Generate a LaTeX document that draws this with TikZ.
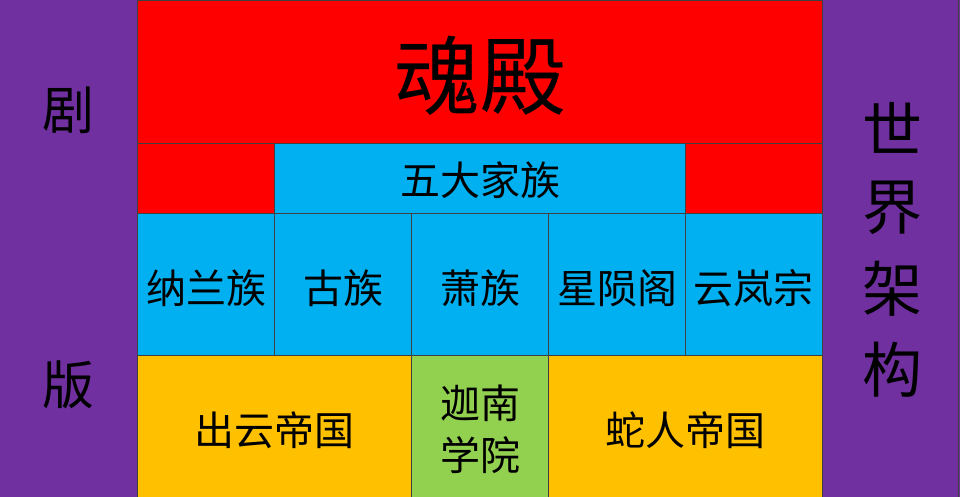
\documentclass[tikz,border=0pt]{standalone}
\usepackage{fontspec}
\setmainfont{Noto Sans CJK SC}
\definecolor{cred}{HTML}{FF0000}
\definecolor{cblue}{HTML}{00B0F0}
\definecolor{corange}{HTML}{FFC000}
\definecolor{cgreen}{HTML}{92D050}
\definecolor{cpurple}{HTML}{7030A0}
\begin{document}
\begin{tikzpicture}[x=1pt,y=-1pt,
  cell/.style={draw=black!75,line width=0.8pt},
  lbl/.style={inner sep=0pt,font=\fontsize{40}{44}\selectfont},
  biglbl/.style={inner sep=0pt,font=\fontsize{86}{90}\selectfont},
  sidelbl/.style={inner sep=0pt,font=\fontsize{52}{56}\selectfont},
  side2lbl/.style={inner sep=0pt,font=\fontsize{60}{64}\selectfont}]
\useasboundingbox (0,0) rectangle (960,497);
% side panels
\fill[cpurple] (0,0) rectangle (137,497);
\fill[cpurple] (822,0) rectangle (960,497);
\draw[cell] (137,0) -- (137,497);
\draw[cell] (822,0) -- (822,497);
\draw[cell] (958.5,0) -- (958.5,497);
% top
\filldraw[cell,fill=cred] (137,0) rectangle (822,143);
\filldraw[cell,fill=cred] (137,143) rectangle (274,213);
\filldraw[cell,fill=cblue] (274,143) rectangle (685,213);
\filldraw[cell,fill=cred] (685,143) rectangle (822,213);
% row 3
\filldraw[cell,fill=cblue] (137,213) rectangle (274,355);
\filldraw[cell,fill=cblue] (274,213) rectangle (411,355);
\filldraw[cell,fill=cblue] (411,213) rectangle (548,355);
\filldraw[cell,fill=cblue] (548,213) rectangle (685,355);
\filldraw[cell,fill=cblue] (685,213) rectangle (822,355);
% row 4
\filldraw[cell,fill=corange] (137,355) rectangle (411,497);
\filldraw[cell,fill=cgreen] (411,355) rectangle (548,497);
\filldraw[cell,fill=corange] (548,355) rectangle (822,497);
% labels
\node[biglbl] (hundian) at (480,76) {魂殿};
\node[lbl] (wuda) at (480,180) {五大家族};
\node[lbl] (nalan) at (206,288) {纳兰族};
\node[lbl] (gu) at (343,288) {古族};
\node[lbl] (xiao) at (480,288) {萧族};
\node[lbl] (xingyun) at (617,288) {星陨阁};
\node[lbl] (yunlan) at (753,288) {云岚宗};
\node[lbl] (chuyun) at (274,430) {出云帝国};
\node[lbl] (jianan1) at (480,403) {迦南};
\node[lbl] (jianan2) at (480,455) {学院};
\node[lbl] (sheren) at (685,430) {蛇人帝国};
\node[sidelbl] (ju) at (68,110) {剧};
\node[sidelbl] (ban) at (68,385) {版};
\node[side2lbl] (shi) at (892,128) {世};
\node[side2lbl] (jie) at (892,208) {界};
\node[side2lbl] (jia) at (892,289) {架};
\node[side2lbl] (gou) at (892,370) {构};
\end{tikzpicture}
\end{document}
